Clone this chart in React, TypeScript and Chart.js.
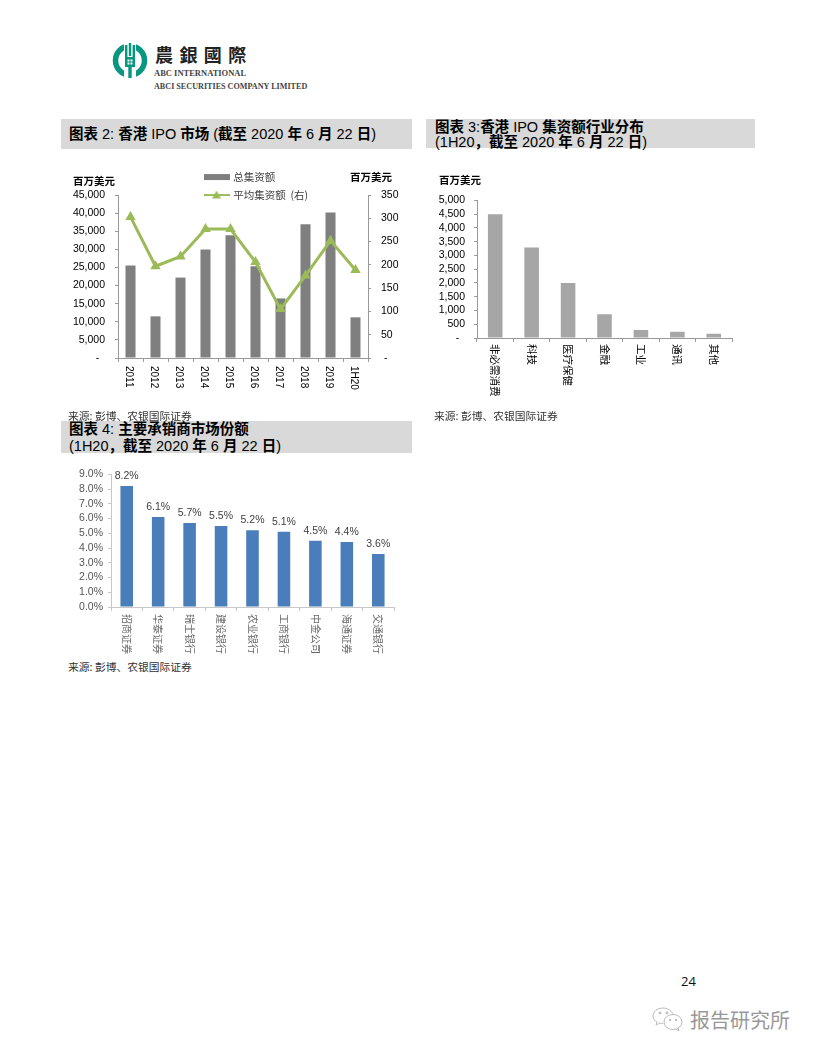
import React, { useEffect, useRef } from "react";
import { Chart, registerables } from "chart.js";

Chart.register(...registerables);

const years = ["2011", "2012", "2013", "2014", "2015", "2016", "2017", "2018", "2019", "1H20"];
const totalRaised = [25570, 11500, 22200, 29960, 33880, 25300, 16440, 36900, 40180, 11230];
const avgRaised = [303, 197, 218, 277, 277, 206, 105, 177, 252, 189];
const sectors = ["非必需消费", "科技", "医疗保健", "金融", "工业", "通讯", "其他"];
const sectorValues = [4490, 3285, 2000, 865, 295, 225, 150];
const brokers = ["招商证券", "华泰证券", "瑞士银行", "建设银行", "农业银行", "工商银行", "中金公司", "海通证券", "交通银行"];
const brokerShares = [8.2, 6.1, 5.7, 5.5, 5.2, 5.1, 4.5, 4.4, 3.6];

const SANS = '"Liberation Sans", "Noto Sans CJK SC", sans-serif';
const CJK = '"Noto Sans CJK SC", sans-serif';

const pinY = (w: number) => (s: any) => { s.width = w; };
const pinX = (h: number) => (s: any) => {
  s.height = h;
  s._getXAxisLabelAlignment = () => "left";
};
const comma = (pad: string, left = false) => (v: any) =>
  v === 0 ? (left ? pad + "-" : "-" + pad) : Number(v).toLocaleString("en-US");

const xAxis = (labelFont: any, color: string, axisColor: string, h: number, padding: number, labelOffset = 0) => ({
  offset: true,
  border: { color: axisColor, width: 1 },
  grid: { offset: true, drawOnChartArea: false, tickLength: 4, tickColor: axisColor },
  ticks: { autoSkip: false, minRotation: -90, maxRotation: -90, padding, labelOffset, font: labelFont, color },
  afterFit: pinX(h),
});

function swatch(draw: (c: CanvasRenderingContext2D) => void) {
  const cv = document.createElement("canvas");
  cv.width = 26;
  cv.height = 12;
  draw(cv.getContext("2d") as CanvasRenderingContext2D);
  return cv;
}

function useChart(make: (c: HTMLCanvasElement) => Chart) {
  const ref = useRef<HTMLCanvasElement>(null);
  useEffect(() => {
    const chart = make(ref.current as HTMLCanvasElement);
    return () => chart.destroy();
  }, []);
  return ref;
}

function Plot({ make, left, top, width, height }: any) {
  const ref = useChart(make);
  return <canvas ref={ref} width={width} height={height}
    style={{ position: "absolute", left, top, width, height, display: "block" }} />;
}

function makeMarket(c: HTMLCanvasElement) {
  const barSwatch = swatch((g) => { g.fillStyle = "#7f7f7f"; g.fillRect(0, 3, 26, 6); });
  const lineSwatch = swatch((g) => {
    g.fillStyle = "#9bbb59";
    g.fillRect(0, 5, 26, 2);
    g.beginPath(); g.moveTo(13, 1.5); g.lineTo(17.5, 9.5); g.lineTo(8.5, 9.5); g.closePath(); g.fill();
  });
  const swatches = [barSwatch, lineSwatch];
  return new Chart(c, {
    type: "bar",
    data: {
      labels: years,
      datasets: [
        { label: "总集资额", data: totalRaised, backgroundColor: "#7f7f7f", barPercentage: 0.4, categoryPercentage: 1, yAxisID: "y", order: 2 },
        { type: "line", label: "平均集资额  (右)", data: avgRaised, borderColor: "#9bbb59", backgroundColor: "#9bbb59", borderWidth: 3, tension: 0, pointStyle: "triangle", pointRadius: 6, pointBorderWidth: 0, yAxisID: "y1", order: 1 } as any,
      ],
    },
    options: {
      animation: false, responsive: false, devicePixelRatio: 1,
      layout: { padding: { top: 30, left: 0, right: 0, bottom: 0 } },
      plugins: {
        tooltip: { enabled: false },
        legend: {
          position: "chartArea" as any, align: "start",
          labels: {
            usePointStyle: true, pointStyleWidth: 23, padding: 7.5, color: "#404040",
            font: { family: CJK, size: 10.5 },
            generateLabels: (ch: any) => ch.data.datasets.map((d: any, i: number) => ({
              text: d.label, pointStyle: swatches[i], datasetIndex: i, hidden: false, lineWidth: 0,
              fillStyle: d.backgroundColor, strokeStyle: d.backgroundColor, fontColor: "#404040",
            })),
          },
        },
      },
      scales: {
        x: xAxis({ family: SANS, size: 10 }, "#000", "#999", 57, 4, -1.5) as any,
        y: {
          position: "left", min: 0, max: 45000,
          border: { color: "#999" },
          grid: { drawOnChartArea: false, tickLength: 3, tickColor: "#999" },
          ticks: { autoSkip: false, stepSize: 5000, padding: 10, color: "#000", font: { family: SANS, size: 10.5 }, callback: comma("  ") },
          afterFit: pinY(58),
        },
        y1: {
          position: "right", min: 0, max: 350,
          border: { color: "#999" },
          grid: { drawOnChartArea: false, tickLength: 3, tickColor: "#999" },
          ticks: { autoSkip: false, stepSize: 50, padding: 10, color: "#000", font: { family: SANS, size: 10.5 }, callback: comma(" ", true) },
          afterFit: pinY(44),
        },
      },
    },
    plugins: [{
      id: "placeLegend",
      beforeDraw(ch: any) {
        const l = ch.legend;
        l.left = 137.5; l.right = 300; l.top = -0.7; l.bottom = 60;
      },
    }],
  });
}

function makeSectors(c: HTMLCanvasElement) {
  return new Chart(c, {
    type: "bar",
    data: { labels: sectors, datasets: [{ data: sectorValues, backgroundColor: "#a6a6a6", barPercentage: 0.4, categoryPercentage: 1 }] },
    options: {
      animation: false, responsive: false, devicePixelRatio: 1,
      layout: { padding: { top: 4, right: 8 } },
      plugins: { legend: { display: false }, tooltip: { enabled: false } },
      scales: {
        x: xAxis({ family: CJK, size: 10.5 }, "#000", "#999", 72, 2) as any,
        y: {
          min: 0, max: 5000,
          border: { color: "#999" },
          grid: { drawOnChartArea: false, tickLength: 3, tickColor: "#999" },
          ticks: { autoSkip: false, stepSize: 500, padding: 9, color: "#000", font: { family: SANS, size: 10.5 }, callback: comma("  ") },
          afterFit: pinY(47),
        },
      },
    },
  });
}

function makeBrokers(c: HTMLCanvasElement) {
  return new Chart(c, {
    type: "bar",
    data: { labels: brokers, datasets: [{ data: brokerShares, backgroundColor: "#4a7ebb", barPercentage: 0.4, categoryPercentage: 1 }] },
    options: {
      animation: false, responsive: false, devicePixelRatio: 1,
      layout: { padding: { top: 5.4, right: 6 } },
      plugins: { legend: { display: false }, tooltip: { enabled: false } },
      scales: {
        x: xAxis({ family: CJK, size: 10 }, "#666", "#c8c8c8", 50, 3) as any,
        y: {
          min: 0, max: 9,
          border: { color: "#c8c8c8" },
          grid: { drawOnChartArea: false, tickLength: 3, tickColor: "#c8c8c8" },
          ticks: { autoSkip: false, stepSize: 1, padding: 5, color: "#555", font: { family: SANS, size: 10.5 }, callback: (v: any) => Number(v).toFixed(1) + "%" },
          afterFit: pinY(45),
        },
      },
    },
    plugins: [{
      id: "barValues",
      afterDatasetsDraw(ch: any) {
        const g = ch.ctx;
        g.save();
        g.font = `10.5px ${SANS}`;
        g.fillStyle = "#404040";
        g.textAlign = "center";
        g.textBaseline = "middle";
        ch.getDatasetMeta(0).data.forEach((bar: any, i: number) => {
          g.fillText(brokerShares[i].toFixed(1) + "%", bar.x, bar.y - 10);
        });
        g.restore();
      },
    }],
  });
}

function Label({ x, y, size = 10.5, color = "#000", weight = "normal", family = SANS, spacing, children }: any) {
  return (
    <div style={{
      position: "absolute", left: x, top: y, fontSize: size, color, fontWeight: weight, fontFamily: family,
      lineHeight: `${Math.ceil(size * 1.2)}px`, whiteSpace: "pre", letterSpacing: spacing,
      transform: "translateY(-50%)",
    }}>{children}</div>
  );
}

function Mixed({ text }: { text: string }) {
  const parts = text.match(/[\u3000-\u9fff\uff00-\uffef]+|[^\u3000-\u9fff\uff00-\uffef]+/g) || [];
  return <>{parts.map((p, i) => /[\u3000-\u9fff\uff00-\uffef]/.test(p)
    ? <span key={i} style={{ fontFamily: CJK, fontWeight: 700 }}>{p}</span>
    : <span key={i} style={{ fontFamily: '"Liberation Sans"' }}>{p}</span>)}</>;
}

function Header({ x, y, w, h, lines }: any) {
  return (
    <div style={{ position: "absolute", left: x, top: y, width: w, height: h, background: "#d9d9d9" }}>
      {lines.map((l: any, i: number) => (
        <div key={i} style={{ position: "absolute", left: l.x, top: l.y, transform: "translateY(-50%)", fontSize: 14.5, lineHeight: "17px", whiteSpace: "pre", color: "#000" }}>
          <Mixed text={l.t} />
        </div>
      ))}
    </div>
  );
}

function Logo() {
  return (
    <svg style={{ position: "absolute", left: 112, top: 42 }} width={36} height={37} viewBox="0 0 36 37">
      <circle cx="18" cy="18.500" r="14.500" fill="none" stroke="#07967f" strokeWidth="5.500" />
      <rect x="12" y="1" width="12" height="35" fill="#fff" />
      <rect x="13" y="3" width="2.400" height="14" fill="#07967f" />
      <rect x="20.600" y="3" width="2.400" height="14" fill="#07967f" />
      <rect x="16.800" y="1" width="2.400" height="13" fill="#07967f" />
      <rect x="13" y="15" width="10" height="10" fill="#07967f" />
      <rect x="15.500" y="17.500" width="2" height="2" fill="#fff" />
      <rect x="18.500" y="17.500" width="2" height="2" fill="#fff" />
      <rect x="15.500" y="20.500" width="2" height="2" fill="#fff" />
      <rect x="18.500" y="20.500" width="2" height="2" fill="#fff" />
      <rect x="16.300" y="25" width="3.400" height="11" fill="#07967f" />
    </svg>
  );
}

function WeChat() {
  return (
    <svg style={{ position: "absolute", left: 651, top: 1006 }} width={34} height={28} viewBox="0 0 34 28" fill="none" stroke="#bbb" strokeWidth="1">
      <path d="M12 2 C6 2 2 6 2 10 C2 13 4 15 6 16 L5 19 L9 17 C10 17.500 11 17.500 12 17.500" />
      <path d="M12 2 C17 2 21 5 22 9" />
      <ellipse cx="22" cy="16" rx="9" ry="7.500" />
      <path d="M27 22 L28 25 L24.500 23" />
      <circle cx="9" cy="7" r="1" fill="#bbb" /><circle cx="16" cy="7" r="1" fill="#bbb" />
      <circle cx="19" cy="14" r="0.800" fill="#bbb" /><circle cx="25" cy="14" r="0.800" fill="#bbb" />
    </svg>
  );
}

export default function App() {
  const src = "来源: 彭博、农银国际证券";
  return (
    <div style={{ position: "absolute", left: 0, top: 0, width: 816, height: 1056, background: "#fff", overflow: "hidden" }}>
      <Logo />
      <Label x={155} y={54} size={18} weight={700} family='"Noto Sans CJK TC"' color="#222" spacing="6.4px">農銀國際</Label>
      <Label x={154} y={73} size={8.5} weight={700} family='"Liberation Serif"' color="#444">ABC INTERNATIONAL</Label>
      <Label x={154} y={87} size={8.15} weight={700} family='"Liberation Serif"' color="#444">ABCI SECURITIES COMPANY LIMITED</Label>

      <Header x={61} y={119} w={351} h={30} lines={[{ x: 8, y: 14, t: "图表 2: 香港 IPO 市场 (截至 2020 年 6 月 22 日)" }]} />
      <Header x={426} y={119} w={329} h={29} lines={[
        { x: 9, y: 7, t: "图表 3:香港 IPO 集资额行业分布" },
        { x: 9, y: 22, t: "(1H20，截至 2020 年 6 月 22 日)" },
      ]} />
      <Header x={61} y={421} w={351} h={32} lines={[
        { x: 8, y: 7, t: "图表 4: 主要承销商市场份额" },
        { x: 8, y: 24, t: "(1H20，截至 2020 年 6 月 22 日)" },
      ]} />

      <Plot make={makeMarket} left={60} top={165} width={352} height={250} />
      <Plot make={makeSectors} left={430} top={185} width={310} height={225} />
      <Plot make={makeBrokers} left={66} top={463} width={334} height={194} />

      <Label x={73} y={180} size={10.5} weight={700} family={CJK}>百万美元</Label>
      <Label x={350} y={176} size={10.5} weight={700} family={CJK}>百万美元</Label>
      <Label x={439} y={179} size={10.5} weight={700} family={CJK}>百万美元</Label>

      <Label x={68} y={415} size={10.75} color="#333" family={CJK}>{src}</Label>
      <Label x={434} y={415} size={10.75} color="#333" family={CJK}>{src}</Label>
      <Label x={68} y={666} size={10.75} color="#333" family={CJK}>{src}</Label>

      <Label x={681} y={981} size={13} family='"Open Sans"' color="#111">24</Label>
      <WeChat />
      <Label x={690} y={1020} size={20} family={CJK} color="#999">报告研究所</Label>
    </div>
  );
}
